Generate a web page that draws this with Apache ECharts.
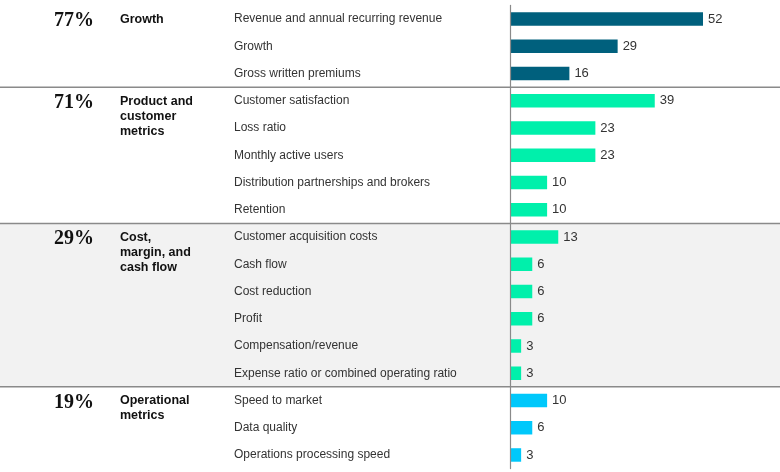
<!DOCTYPE html>
<html>
<head>
<meta charset="utf-8">
<script src="https://cdn.jsdelivr.net/npm/echarts@6/dist/echarts.min.js"></script>
<style>html,body{margin:0;padding:0;background:#fff}#c{width:780px;height:472px}</style>
</head>
<body>
<div id="c"></div>
<script>
const categories = [
  "Revenue and annual recurring revenue","Growth","Gross written premiums",
  "Customer satisfaction","Loss ratio","Monthly active users","Distribution partnerships and brokers","Retention",
  "Customer acquisition costs","Cash flow","Cost reduction","Profit","Compensation/revenue","Expense ratio or combined operating ratio",
  "Speed to market","Data quality","Operations processing speed"
];
const values = [52,29,16, 39,23,23,10,10, 13,6,6,6,3,3, 10,6,3];
const groupNames = ["Growth","Product and\ncustomer\nmetrics","Cost,\nmargin, and\ncash flow","Operational\nmetrics"];
const groupShares = ["77%","71%","29%","19%"];
const groupStart = [0,3,8,14];
const groupEnd = [2,7,13,16];
const groupColors = ["#00607d","#00f0ab","#00f0ab","#00c8fb"];

const barData = values.map((v,i)=>{
  let g = 0; for (let k=0;k<groupStart.length;k++) if (i>=groupStart[k] && i<=groupEnd[k]) g=k;
  return {value:v, itemStyle:{color:groupColors[g]}};
});
const groupData = groupNames.map((n,k)=>[groupStart[k], groupEnd[k], k]);

const chart = echarts.init(document.getElementById('c'));
chart.setOption({
  animation:false,
  grid:{left:510, top:5.4, bottom:3.4, width:222.7},
  xAxis:{type:'value', min:0, max:60, show:false},
  yAxis:{type:'category', data:categories, inverse:true, z:5,
    axisLine:{show:true, lineStyle:{color:'#8a8a8a', width:1.2}},
    axisTick:{show:false},
    axisLabel:{align:'left', margin:276, color:'#333', fontSize:12, fontFamily:'Liberation Sans, Arial, sans-serif'}
  },
  series:[
    {type:'custom', z:1, clip:false, silent:true, data:groupData,
      encode:{y:[0,1]},
      renderItem:function(params, api){
        const s = api.value(0), e = api.value(1), k = api.value(2);
        const band = api.size([0,1])[1];
        const yTop = api.coord([0, s])[1] - band/2;
        const yBot = api.coord([0, e])[1] + band/2;
        const W = api.getWidth();
        const ch = [];
        if (k === 2) ch.push({type:'rect', shape:{x:0,y:yTop,width:W,height:yBot-yTop}, style:{fill:'#f2f2f2'}});
        if (k > 0) ch.push({type:'line', shape:{x1:0,y1:yTop,x2:W,y2:yTop}, style:{stroke:'#8a8a8a', lineWidth:1.5}});
        const yFirst = api.coord([0, s])[1];
        ch.push({type:'text', x:54, y:yFirst+2, style:{text:groupShares[k], fill:'#111', font:'bold 20px "Liberation Serif", serif', verticalAlign:'middle', align:'left'}});
        ch.push({type:'text', x:120, y:yFirst-7, style:{text:groupNames[k], fill:'#111', font:'bold 12.5px "Liberation Sans", Arial, sans-serif', lineHeight:15, verticalAlign:'top', align:'left'}});
        return {type:'group', children:ch};
      }
    },
    {type:'bar', z:2, data:barData, barWidth:13.5,
      label:{show:true, position:'right', distance:5, color:'#333', fontSize:13, fontFamily:'Liberation Sans, Arial, sans-serif'}
    }
  ]
});
</script>
</body>
</html>
